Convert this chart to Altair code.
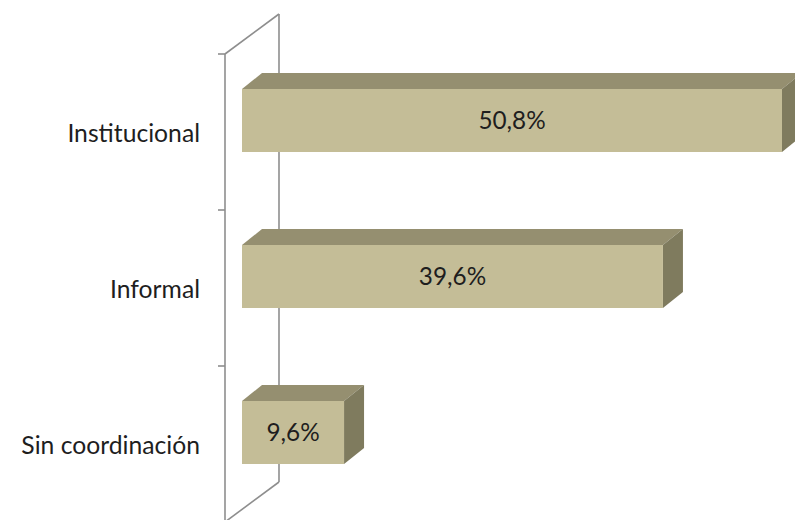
import altair as alt
import pandas as pd

# Data
categories = ["Institucional", "Informal", "Sin coordinación"]
shares = [50.8, 39.6, 9.6]
share_labels = ["50,8%", "39,6%", "9,6%"]

# Canvas and layout (pixels)
W, H = 795, 520
ZERO_PX = 242          # where 0 % sits horizontally
PX_PER_PCT = 10.63     # horizontal pixels per percentage point
ROW0_PX = 132          # vertical centre of the first category band
ROW_PX = 156           # band height

# 3D styling (pixels)
BAR_DX, BAR_DY = 20, 16      # bar depth
WALL_DX, WALL_DY = 54, 40    # back-wall depth
FACE_UP, FACE_DOWN = 43, 20  # front face extent above / below band centre
WALL_X = 225
TICK_LEN = 7

FRONT = "#C4BD97"
TOP = "#958F70"
SIDE = "#7F7B5E"
WALL = "#8E8E8E"
TEXT = "#1E1E1E"
FONT = "Lato"
CAT_SIZE = 24.7
VAL_SIZE = 24.3

# scales: data units -> pixels
x_dom = [-ZERO_PX / PX_PER_PCT, (W - ZERO_PX) / PX_PER_PCT]
y_dom = [-ROW0_PX / ROW_PX, (H - ROW0_PX) / ROW_PX]
xs = alt.Scale(domain=x_dom, range=[0, W], nice=False, zero=False)
ys = alt.Scale(domain=y_dom, range=[0, H], nice=False, zero=False)

dxu = BAR_DX / PX_PER_PCT
dyu = BAR_DY / ROW_PX
up = FACE_UP / ROW_PX
down = FACE_DOWN / ROW_PX

front_rows, top_rows, side_rows, label_rows = [], [], [], []
for i, (cat, v, lab) in enumerate(zip(categories, shares, share_labels)):
    top, bot = i - up, i + down
    front_rows.append(dict(cat=cat, x=0, x2=v, y=top, y2=bot))
    label_rows.append(dict(cat=cat, row=i, xm=v / 2, ym=(top + bot) / 2, lab=lab))
    for x, y, y2 in [(0, top, top), (dxu, top - dyu, top),
                     (v, top - dyu, top), (v + dxu, top - dyu, top - dyu)]:
        top_rows.append(dict(cat=cat, x=x, y=y, y2=y2))
    for x, y, y2 in [(v, top, bot), (v + dxu, top - dyu, bot - dyu)]:
        side_rows.append(dict(cat=cat, x=x, y=y, y2=y2))

front_df = pd.DataFrame(front_rows)
top_df = pd.DataFrame(top_rows)
side_df = pd.DataFrame(side_rows)
label_df = pd.DataFrame(label_rows)

n = len(categories)
bounds = [i - 0.5 for i in range(n + 1)]
wdy = WALL_DY / ROW_PX
bound_df = pd.DataFrame({"y": bounds})
wall_df = pd.DataFrame({
    "y": [bounds[0], bounds[0] - wdy, bounds[0], bounds[-1]],
    "y2": [bounds[-1], bounds[-1] - wdy, bounds[0] - wdy, bounds[-1] - wdy],
    "xa": [WALL_X, WALL_X + WALL_DX, WALL_X, WALL_X],
    "xb": [WALL_X, WALL_X + WALL_DX, WALL_X + WALL_DX, WALL_X + WALL_DX],
})

# back wall: verticals and slanted edges
wall = alt.Chart(wall_df).mark_rule(color=WALL, strokeWidth=1.6).encode(
    x=alt.X("xa:Q", scale=None), x2="xb:Q",
    y=alt.Y("y:Q", scale=ys, axis=None), y2="y2:Q",
)
ticks = alt.Chart(bound_df).mark_rule(color=WALL, strokeWidth=1.6).encode(
    x=alt.value(WALL_X - TICK_LEN), x2=alt.value(WALL_X),
    y=alt.Y("y:Q", scale=ys, axis=None),
)

front = alt.Chart(front_df).mark_rect(color=FRONT).encode(
    x=alt.X("x:Q", scale=xs, axis=None), x2="x2:Q",
    y=alt.Y("y:Q", scale=ys, axis=None), y2="y2:Q",
)
top_face = alt.Chart(top_df).mark_area(color=TOP, orient="vertical").encode(
    x=alt.X("x:Q", scale=xs, axis=None),
    y=alt.Y("y:Q", scale=ys, axis=None), y2="y2:Q",
    detail="cat:N",
)
side_face = alt.Chart(side_df).mark_area(color=SIDE, orient="vertical").encode(
    x=alt.X("x:Q", scale=xs, axis=None),
    y=alt.Y("y:Q", scale=ys, axis=None), y2="y2:Q",
    detail="cat:N",
)

value_text = alt.Chart(label_df).mark_text(
    font=FONT, fontSize=VAL_SIZE, color=TEXT, align="center", baseline="middle", dy=1
).encode(
    x=alt.X("xm:Q", scale=xs, axis=None),
    y=alt.Y("ym:Q", scale=ys, axis=None),
    text="lab:N",
)
cat_text = alt.Chart(label_df).mark_text(
    font=FONT, fontSize=CAT_SIZE, color=TEXT, align="right", baseline="middle", dy=3
).encode(
    x=alt.value(200),
    y=alt.Y("row:Q", scale=ys, axis=None),
    text="cat:N",
)

chart = alt.layer(wall, ticks, top_face, side_face, front, value_text, cat_text).properties(
    width=W, height=H, padding=0, autosize=alt.AutoSizeParams(type="none"),
).configure_view(stroke=None)

chart.save("out.html", embed_options={"renderer": "svg", "actions": False})
